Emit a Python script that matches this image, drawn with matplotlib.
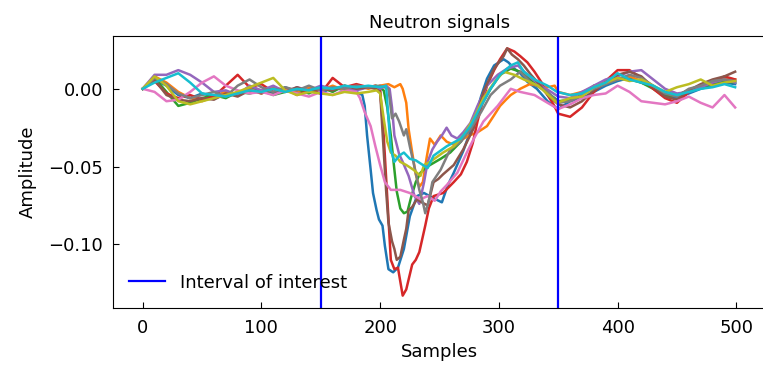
import matplotlib
matplotlib.use("Agg")
import matplotlib.pyplot as plt
from matplotlib.ticker import MultipleLocator
import numpy as np

# common sample grids for the quiet parts before and after the pulse
pre_x = [0, 10, 20, 30, 40, 50, 60, 70, 80, 90, 100, 110, 120, 130, 140, 150, 160, 170, 180]
post_x = [360, 370, 380, 390, 400, 410, 420, 430, 440, 450, 460, 470, 480, 490, 499]

# signal 0 (blue)
s0_pre = [0, 0.006, 0.002, -0.004, -0.006, -0.003, -0.005, -0.002, -0.004, 0.001,
          -0.002, -0.003, 0.001, -0.002, 0.000, -0.003, 0.001, -0.001, -0.002]
s0_px = [185, 187, 189, 192, 194, 197, 199, 202, 204, 207, 211, 215, 220, 225, 231, 237,
         244, 252, 257, 262, 270, 279, 285, 290, 296, 304, 308, 313, 318, 324, 332, 341, 346, 350]
s0_pv = [-0.004, -0.011, -0.030, -0.052, -0.067, -0.078, -0.084, -0.088, -0.101, -0.116,
         -0.118, -0.115, -0.103, -0.082, -0.069, -0.067, -0.070, -0.073, -0.062, -0.054,
         -0.040, -0.021, -0.005, 0.0065, 0.015, 0.019, 0.017, 0.013, 0.010, 0.0045, 0.000,
         -0.008, -0.011, -0.013]
s0_post = [-0.008, -0.006, -0.002, 0.002, 0.005, 0.007, 0.004, 0.001, -0.004, -0.006,
           -0.003, 0.000, 0.002, 0.004, 0.003]

# signal 1 (orange)
s1_pre = [0, 0.008, 0.004, -0.002, -0.006, -0.008, -0.005, -0.002, -0.004, 0.000,
          -0.003, 0.001, -0.001, -0.002, 0.001, -0.001, 0.002, -0.001, 0.002]
s1_px = [190, 200, 207, 212, 217, 219, 222, 224, 227, 230, 233, 236, 239, 242, 246, 251,
         256, 262, 268, 275, 282, 290, 296, 301, 306, 310, 318, 326, 333, 341, 347, 350]
s1_pv = [0.000, 0.002, 0.003, 0.001, 0.003, 0.000, -0.009, -0.026, -0.041, -0.055, -0.063,
         -0.060, -0.045, -0.032, -0.036, -0.030, -0.034, -0.036, -0.033, -0.030, -0.028,
         -0.024, -0.017, -0.011, -0.007, -0.004, 0.000, 0.003, 0.002, 0.001, 0.002, -0.002]
s1_post = [-0.004, -0.002, 0.001, 0.004, 0.006, 0.008, 0.005, 0.001, -0.002, -0.004,
           -0.001, 0.002, 0.004, 0.007, 0.006]

# signal 2 (green)
s2_pre = [0, 0.007, -0.002, -0.011, -0.009, -0.006, -0.004, -0.006, -0.002, -0.003,
          -0.001, -0.004, -0.002, 0.000, -0.003, 0.001, -0.002, 0.002, 0.000]
s2_px = [190, 197, 203, 206, 209, 212, 214, 217, 220, 223, 226, 230, 234, 238, 242, 251,
         259, 268, 276, 285, 293, 301, 310, 318, 330, 340, 347, 350]
s2_pv = [0.001, 0.002, -0.001, -0.012, -0.030, -0.052, -0.066, -0.077, -0.080, -0.079,
         -0.070, -0.060, -0.054, -0.051, -0.049, -0.045, -0.041, -0.034, -0.024, -0.011,
         0.000, 0.009, 0.013, 0.011, 0.004, -0.002, -0.006, -0.008]
s2_post = [-0.007, -0.004, 0.002, 0.004, 0.007, 0.006, 0.004, 0.000, -0.005, -0.004,
           -0.001, 0.001, 0.003, 0.005, 0.004]

# signal 3 (red)
s3_pre = [0, 0.005, -0.003, -0.006, -0.004, -0.007, -0.005, 0.002, 0.009, 0.001,
          0.003, -0.002, 0.000, -0.004, -0.001, -0.003, 0.007, 0.001, 0.003]
s3_px = [190, 196, 200, 203, 206, 209, 212, 215, 219, 222, 227, 230, 233, 238, 241, 245,
         253, 262, 268, 273, 278, 282, 290, 296, 301, 307, 313, 318, 324, 330, 336, 341, 346, 350]
s3_pv = [0.001, 0.002, -0.001, -0.030, -0.070, -0.110, -0.116, -0.115, -0.133, -0.129,
         -0.113, -0.110, -0.105, -0.088, -0.077, -0.069, -0.067, -0.060, -0.055, -0.047,
         -0.035, -0.021, 0.002, 0.012, 0.019, 0.026, 0.024, 0.021, 0.017, 0.011, 0.004,
         -0.004, -0.010, -0.016]
s3_post = [-0.018, -0.012, -0.002, 0.005, 0.012, 0.012, 0.007, 0.000, -0.006, -0.009,
           -0.002, 0.002, 0.004, 0.008, 0.006]

# signal 4 (purple)
s4_pre = [0, 0.009, 0.009, 0.012, 0.009, 0.004, -0.002, -0.001, -0.004, 0.002,
          -0.001, 0.002, -0.002, 0.001, -0.001, 0.002, 0.000, 0.001, -0.001]
s4_px = [190, 200, 205, 208, 210, 212, 216, 219, 224, 229, 233, 237, 240, 244, 248, 252,
         256, 260, 265, 270, 276, 282, 290, 299, 307, 316, 324, 335, 342, 350]
s4_pv = [0.001, 0.000, 0.002, 0.000, -0.012, -0.030, -0.042, -0.047, -0.056, -0.069,
         -0.074, -0.060, -0.047, -0.039, -0.034, -0.030, -0.025, -0.030, -0.032, -0.028,
         -0.022, -0.011, 0.002, 0.009, 0.013, 0.015, 0.009, 0.002, -0.001, -0.005]
s4_post = [-0.006, -0.002, 0.002, 0.006, 0.008, 0.011, 0.012, 0.006, 0.000, -0.003,
           -0.002, 0.001, 0.004, 0.006, 0.004]

# signal 5 (brown)
s5_pre = [0, 0.006, -0.004, -0.007, -0.008, -0.006, -0.007, -0.003, -0.005, -0.001,
          -0.003, 0.000, -0.002, 0.001, -0.002, 0.000, -0.001, 0.002, 0.000]
s5_px = [190, 196, 200, 203, 205, 207, 210, 212, 214, 217, 220, 222, 224, 227, 231, 235,
         240, 245, 249, 253, 262, 270, 279, 287, 296, 304, 307, 311, 316, 321, 327, 334, 341, 350]
s5_pv = [0.001, 0.000, -0.002, -0.040, -0.065, -0.086, -0.098, -0.103, -0.110, -0.108,
         -0.097, -0.090, -0.078, -0.076, -0.071, -0.073, -0.075, -0.060, -0.058, -0.055,
         -0.049, -0.039, -0.025, -0.002, 0.013, 0.021, 0.026, 0.022, 0.019, 0.015, 0.009,
         0.003, -0.004, -0.010]
s5_post = [-0.012, -0.008, -0.001, 0.004, 0.009, 0.011, 0.008, 0.001, -0.005, -0.007,
           -0.001, 0.003, 0.006, 0.008, 0.011]

# signal 6 (pink)
s6_pre = [0, -0.002, -0.008, -0.007, -0.002, 0.004, 0.008, 0.002, -0.001, -0.003,
          -0.002, -0.004, -0.001, -0.003, -0.005, -0.002, -0.004, -0.001, -0.002]
s6_px = [183, 187, 192, 196, 200, 204, 209, 217, 225, 234, 240, 246, 251, 256, 265, 273,
         279, 287, 299, 310, 318, 330, 341, 350]
s6_pv = [-0.006, -0.015, -0.024, -0.037, -0.049, -0.060, -0.065, -0.065, -0.067, -0.071,
         -0.069, -0.072, -0.066, -0.062, -0.054, -0.041, -0.032, -0.021, -0.011, 0.000,
         -0.002, -0.004, -0.009, -0.013]
s6_post = [-0.010, -0.006, -0.004, -0.003, 0.002, -0.002, -0.008, -0.009, -0.010, -0.008,
           -0.005, -0.009, -0.012, -0.004, -0.012]

# signal 7 (grey)
s7_pre = [0, 0.007, 0.003, -0.003, -0.006, -0.004, -0.002, -0.005, 0.002, 0.006,
          0.001, -0.002, 0.001, -0.001, 0.002, -0.001, 0.001, 0.000, 0.002]
s7_px = [190, 200, 207, 210, 213, 216, 220, 222, 225, 228, 233, 236, 238, 241, 244, 251,
         259, 268, 276, 285, 293, 301, 310, 318, 327, 341, 350]
s7_pv = [0.001, 0.002, 0.000, -0.019, -0.016, -0.021, -0.030, -0.026, -0.037, -0.047,
         -0.065, -0.073, -0.080, -0.072, -0.060, -0.052, -0.039, -0.034, -0.026, -0.015,
         -0.004, 0.002, 0.006, 0.011, 0.004, -0.002, -0.009]
s7_post = [-0.008, -0.004, 0.000, 0.003, 0.006, 0.009, 0.007, 0.002, -0.003, -0.005,
           0.000, 0.002, 0.005, 0.006, 0.005]

# signal 8 (olive)
s8_pre = [0, 0.008, 0.002, -0.008, -0.010, -0.008, -0.006, -0.004, -0.002, 0.001,
          0.004, 0.007, -0.001, -0.004, -0.002, -0.003, -0.004, -0.002, -0.003]
s8_px = [190, 197, 200, 203, 206, 209, 213, 217, 222, 228, 234, 237, 242, 253, 262, 270,
         279, 287, 296, 304, 313, 321, 333, 349]
s8_pv = [-0.002, -0.001, -0.003, -0.019, -0.034, -0.041, -0.043, -0.047, -0.049, -0.052,
         -0.056, -0.049, -0.047, -0.041, -0.037, -0.030, -0.019, -0.006, 0.004, 0.011,
         0.009, 0.006, 0.002, -0.009]
s8_post = [-0.006, -0.005, 0.001, 0.004, 0.007, 0.005, 0.006, 0.002, -0.002, 0.001,
           0.003, 0.006, 0.002, 0.004, 0.005]

# signal 9 (cyan)
s9_pre = [0, 0.004, 0.007, 0.010, 0.004, -0.003, -0.004, -0.005, -0.003, -0.001,
          -0.002, 0.000, -0.002, 0.000, -0.001, 0.001, 0.000, 0.002, 0.001]
s9_px = [190, 200, 205, 207, 209, 212, 216, 220, 225, 230, 236, 240, 245, 256, 268, 276,
         285, 293, 301, 310, 316, 321, 330, 341, 349]
s9_pv = [0.002, 0.001, 0.002, -0.019, -0.039, -0.047, -0.043, -0.041, -0.045, -0.046,
         -0.049, -0.051, -0.043, -0.037, -0.032, -0.024, -0.011, 0.000, 0.009, 0.015,
         0.017, 0.011, 0.006, 0.002, -0.002]
s9_post = [-0.004, -0.003, 0.001, 0.004, 0.010, 0.006, 0.004, 0.002, -0.002, -0.004,
           -0.002, 0.000, 0.001, 0.003, 0.001]

signals = [
    (s0_pre, s0_px, s0_pv, s0_post),
    (s1_pre, s1_px, s1_pv, s1_post),
    (s2_pre, s2_px, s2_pv, s2_post),
    (s3_pre, s3_px, s3_pv, s3_post),
    (s4_pre, s4_px, s4_pv, s4_post),
    (s5_pre, s5_px, s5_pv, s5_post),
    (s6_pre, s6_px, s6_pv, s6_post),
    (s7_pre, s7_px, s7_pv, s7_post),
    (s8_pre, s8_px, s8_pv, s8_post),
    (s9_pre, s9_px, s9_pv, s9_post),
]

interval = [150, 350]

fig = plt.figure(figsize=(7.63, 3.66), dpi=100)
# the right spine falls just outside the picture, as in the original
ax = fig.add_axes([113 / 763, 58 / 366, 653 / 763, 272 / 366])

for pre, px, pv, post in signals:
    x = np.concatenate([pre_x, px, post_x])
    y = np.concatenate([pre, pv, post])
    ax.plot(x, y, linewidth=1.8)

ax.axvline(interval[0], color="blue", linewidth=1.6, label="Interval of interest")
ax.axvline(interval[1], color="blue", linewidth=1.6)

ax.set_xlim(-25, 525)
ax.yaxis.set_major_locator(MultipleLocator(0.05))
ax.set_title("Neutron signals", fontsize=13)
ax.set_xlabel("Samples", fontsize=13)
ax.set_ylabel("Amplitude", fontsize=13, labelpad=8)
ax.tick_params(axis="both", direction="in", length=4, labelsize=13)
ax.tick_params(axis="x", pad=8)
ax.tick_params(axis="y", pad=7)
ax.legend(loc="lower left", frameon=False, fontsize=13)

fig.savefig("out.png", dpi=100)
plt.close(fig)
